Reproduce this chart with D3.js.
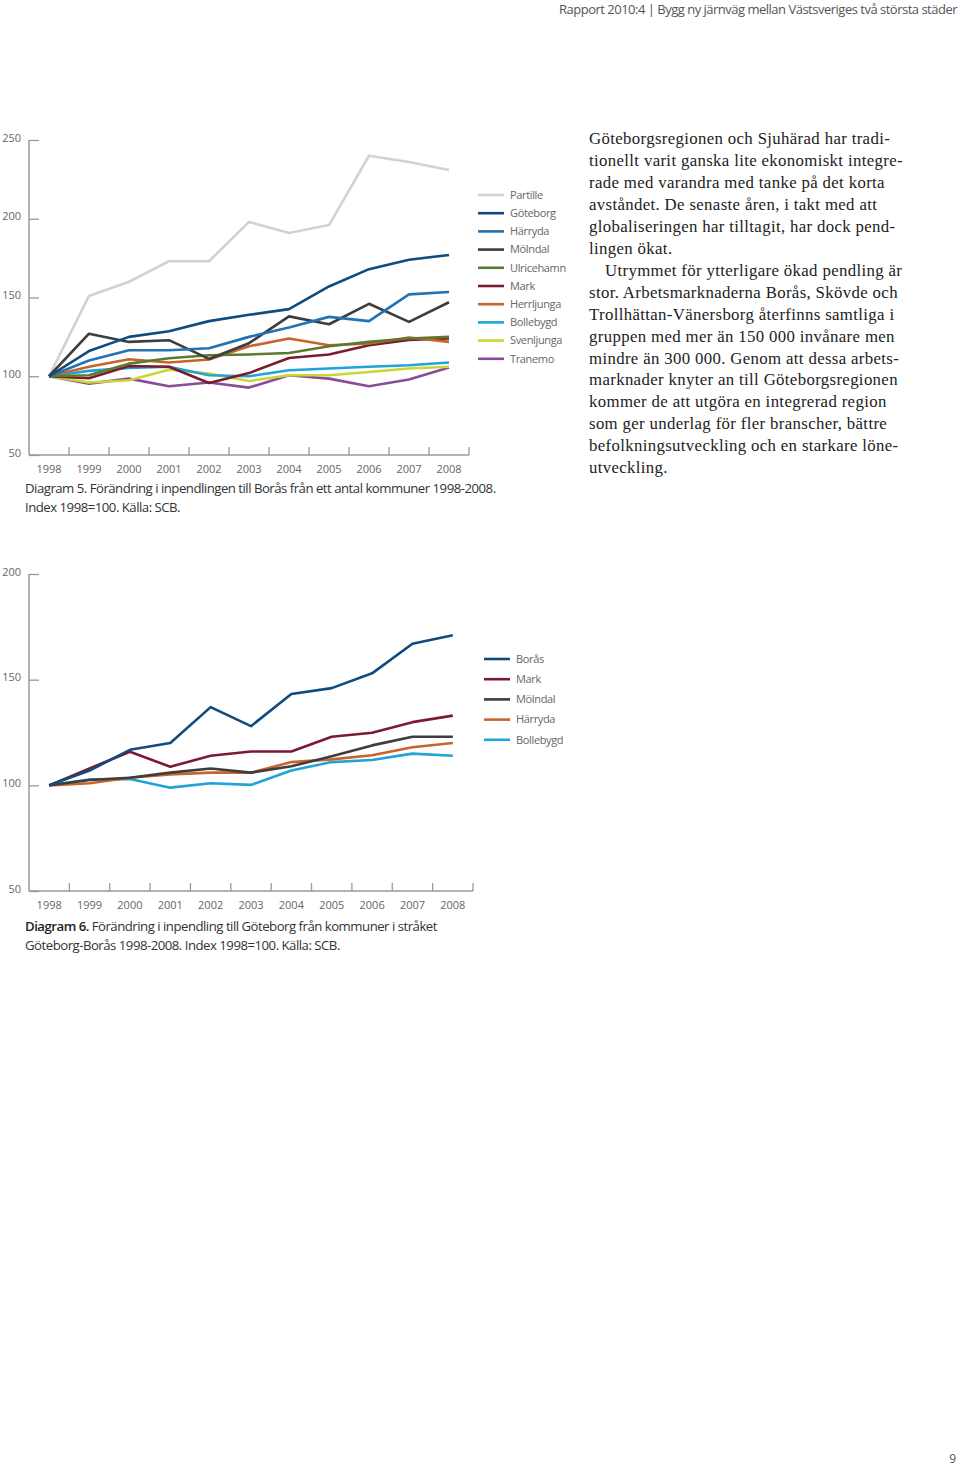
<!DOCTYPE html>
<html>
<head>
<meta charset="utf-8">
<script src="https://cdn.jsdelivr.net/npm/d3@7"></script>
<style>
  body { margin: 0; background: #fff; }
  svg { display: block; }
  .tick text { font-family: "Open Sans", sans-serif; fill: #666; }
</style>
</head>
<body>
<div id="page"></div>
<script>
// data
var years = ["1998","1999","2000","2001","2002","2003","2004","2005","2006","2007","2008"];

// Diagram 5 - inpendling till Borås
var names5 = ["Partille","Göteborg","Härryda","Mölndal","Ulricehamn","Mark","Herrljunga","Bollebygd","Svenljunga","Tranemo"];
var partille   = [100,151,160,173,173,198,191,196,240,236,231];
var goteborg   = [100,116,125,128.6,135,139,142.6,157,168,174,177];
var harryda5   = [100,110,116.5,116.5,117.8,125,131,137.7,135,152,153.5];
var molndal5   = [100,127,121.8,122.9,111,121,138,133,146,134.5,147];
var ulricehamn = [100,100.6,108,111.4,113.3,113.8,114.8,119,121.8,124,125];
var mark5      = [100,98.7,106.5,106,95.7,102,111.6,113.8,119.7,123,124];
var herrljunga = [100,106,110.8,108.7,110.6,119,124,119.7,120.8,124.6,121.8];
var bollebygd5 = [100,103.4,105.3,106,100.6,100,103.8,104.9,106,107,108.7];
var svenljunga = [100,96,97.5,104.2,101.7,97,100.6,100.6,102.7,104.9,106];
var tranemo    = [100,95.3,98.5,93.6,96,92.8,100.6,98.5,93.6,97.9,105.5];
var ticks5 = [50,100,150,200,250];

// Diagram 6 - inpendling till Göteborg
var names6 = ["Borås","Mark","Mölndal","Härryda","Bollebygd"];
var boras      = [100,107,116.8,120,137,128,143.2,146,153,167,171];
var mark6      = [100,108,115.9,108.8,114,116,116,123,124.9,129.9,133];
var molndal6   = [100,102.5,103.6,106,108,106,109,113.8,118.9,123,123];
var harryda6   = [100,101,103.6,105.2,106,106,111,112.3,114.2,118,120];
var bollebygd6 = [100,102.8,103,98.9,101,100.2,107,111,112,115,114];
var ticks6 = [50,100,150,200];

var col = {
  partille: "#d2d2d2", navy: "#0f4b7d", blue: "#2173b3", dark: "#3d3d3d",
  olive: "#5b7a2f", maroon: "#7c1b2f", orange: "#c9632c", cyan: "#1ea4d6",
  yellow: "#c9d633", purple: "#8a4b98"
};

var series5 = [
  {name: names5[0], v: partille,   c: col.partille},
  {name: names5[9], v: tranemo,    c: col.purple},
  {name: names5[8], v: svenljunga, c: col.yellow},
  {name: names5[7], v: bollebygd5, c: col.cyan},
  {name: names5[5], v: mark5,      c: col.maroon},
  {name: names5[6], v: herrljunga, c: col.orange},
  {name: names5[4], v: ulricehamn, c: col.olive},
  {name: names5[3], v: molndal5,   c: col.dark},
  {name: names5[2], v: harryda5,   c: col.blue},
  {name: names5[1], v: goteborg,   c: col.navy}
];
var legend5 = [col.partille, col.navy, col.blue, col.dark, col.olive, col.maroon, col.orange, col.cyan, col.yellow, col.purple];

var series6 = [
  {name: names6[4], v: bollebygd6, c: col.cyan},
  {name: names6[3], v: harryda6,   c: col.orange},
  {name: names6[2], v: molndal6,   c: col.dark},
  {name: names6[1], v: mark6,      c: col.maroon},
  {name: names6[0], v: boras,      c: col.navy}
];
var legend6 = [col.navy, col.maroon, col.dark, col.orange, col.cyan];

var W = 960, H = 1466;
var svg = d3.select("#page").append("svg").attr("width", W).attr("height", H);

// header + page number
svg.append("text")
  .attr("x", 957).attr("y", 14)
  .attr("text-anchor", "end")
  .style("font-family", "Open Sans").style("font-size", "13px")
  .style("letter-spacing", "-0.5px").style("fill", "#555")
  .text("Rapport 2010:4 | Bygg ny järnväg mellan Västsveriges två största städer");
svg.append("text")
  .attr("x", 956).attr("y", 1463)
  .attr("text-anchor", "end")
  .style("font-family", "Open Sans").style("font-size", "12px").style("fill", "#555")
  .text("9");

function drawChart(opt) {
  var g = svg.append("g");

  var x = d3.scaleBand().domain(years).range([opt.left, opt.right]);
  var y = d3.scaleLinear().domain(opt.ydomain).range([opt.bottom, opt.top]);

  // y axis, ticks pointing inward
  g.append("g")
    .attr("transform", `translate(${opt.left},0)`)
    .call(d3.axisLeft(y).tickValues(opt.yticks).tickSize(-10).tickPadding(8))
    .call(a => a.select(".domain").remove())
    .call(a => a.selectAll("line").attr("stroke", "#999").attr("stroke-width", 1.3))
    .call(a => a.selectAll("text").style("font-size", "11px").attr("dy", "0.1em"));

  g.append("line")
    .attr("x1", opt.left).attr("x2", opt.left)
    .attr("y1", y(opt.ydomain[1])).attr("y2", opt.bottom)
    .attr("stroke", "#999").attr("stroke-width", 1.5);

  // x axis: labels in band centre, ticks on band edges
  g.append("g")
    .attr("transform", `translate(0,${opt.bottom})`)
    .call(d3.axisBottom(x).tickSize(0).tickPadding(10))
    .call(a => a.select(".domain").remove())
    .call(a => a.selectAll("text").style("font-size", "11px"));

  g.append("line")
    .attr("x1", opt.left).attr("x2", opt.right)
    .attr("y1", opt.bottom).attr("y2", opt.bottom)
    .attr("stroke", "#999").attr("stroke-width", 1.5);

  g.selectAll("line.xt")
    .data(years)
    .join("line")
    .attr("class", "xt")
    .attr("x1", d => x(d) + x.bandwidth()).attr("x2", d => x(d) + x.bandwidth())
    .attr("y1", opt.bottom).attr("y2", opt.bottom - 8)
    .attr("stroke", "#999").attr("stroke-width", 1.3);

  var line = d3.line()
    .x((d, i) => x(years[i]) + x.bandwidth() / 2)
    .y(d => y(d));

  g.selectAll("path.s")
    .data(opt.series)
    .join("path")
    .attr("class", "s")
    .attr("fill", "none")
    .attr("stroke", d => d.c)
    .attr("stroke-width", 2.6)
    .attr("stroke-linejoin", "round")
    .attr("d", d => line(d.v));

  // legend
  var lg = g.append("g").attr("transform", `translate(${opt.legX},${opt.legY})`);
  var item = lg.selectAll("g")
    .data(opt.legendNames)
    .join("g")
    .attr("transform", (d, i) => `translate(0,${i * opt.legStep})`);
  item.append("line")
    .attr("x1", 0).attr("x2", 26)
    .attr("stroke", (d, i) => opt.legendColors[i])
    .attr("stroke-width", 2.6);
  item.append("text")
    .attr("x", 32).attr("dy", "0.35em")
    .style("font-family", "Open Sans").style("font-size", "11px")
    .style("letter-spacing", "-0.35px").style("fill", "#666")
    .text(d => d);

  // caption
  var cap = g.append("text")
    .style("font-family", "Open Sans").style("font-size", "13.2px")
    .style("letter-spacing", "-0.5px").style("fill", "#333");
  opt.caption.forEach((ln, i) => {
    var t = cap.append("tspan").attr("x", 25).attr("y", opt.capY + i * 18.5);
    if (ln.bold) t.append("tspan").style("font-weight", 600).style("fill", "#222").text(ln.bold);
    t.append("tspan").text(ln.text);
  });
}

drawChart({
  left: 29, right: 469, top: 140, bottom: 455,
  ydomain: [50, 250], yticks: ticks5,
  series: series5,
  legendNames: names5, legendColors: legend5,
  legX: 478, legY: 195, legStep: 18.2,
  capY: 493,
  caption: [
    {text: "Diagram 5. Förändring i inpendlingen till Borås från ett antal kommuner 1998-2008."},
    {text: "Index 1998=100. Källa: SCB."}
  ]
});

drawChart({
  left: 29, right: 473, top: 574, bottom: 891,
  ydomain: [50, 200], yticks: ticks6,
  series: series6,
  legendNames: names6, legendColors: legend6,
  legX: 484, legY: 659, legStep: 20.2,
  capY: 931,
  caption: [
    {bold: "Diagram 6.", text: " Förändring i inpendling till Göteborg från kommuner i stråket"},
    {text: "Göteborg-Borås 1998-2008. Index 1998=100. Källa: SCB."}
  ]
});

// body text
var para = [
  "Göteborgsregionen och Sjuhärad har tradi-",
  "tionellt varit ganska lite ekonomiskt integre-",
  "rade med varandra med tanke på det korta",
  "avståndet. De senaste åren, i takt med att",
  "globaliseringen har tilltagit, har dock pend-",
  "lingen ökat.",
  "Utrymmet för ytterligare ökad pendling är",
  "stor. Arbetsmarknaderna Borås, Skövde och",
  "Trollhättan-Vänersborg återfinns samtliga i",
  "gruppen med mer än 150 000 invånare men",
  "mindre än 300 000. Genom att dessa arbets-",
  "marknader knyter an till Göteborgsregionen",
  "kommer de att utgöra en integrerad region",
  "som ger underlag för fler branscher, bättre",
  "befolkningsutveckling och en starkare löne-",
  "utveckling."
];
svg.append("g").selectAll("text")
  .data(para)
  .join("text")
  .attr("x", (d, i) => i === 6 ? 605 : 589)
  .attr("y", (d, i) => 144 + i * 21.95)
  .style("font-family", "Liberation Serif").style("font-size", "16.8px")
  .style("letter-spacing", "0.35px")
  .style("fill", "#222")
  .text(d => d);
</script>
</body>
</html>
